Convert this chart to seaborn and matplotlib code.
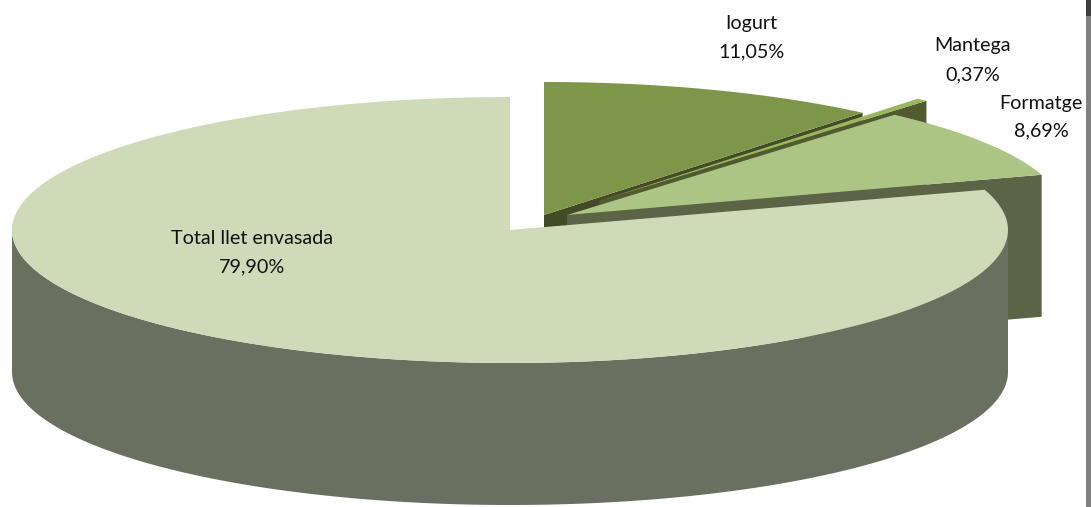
import numpy as np
import pandas as pd
import seaborn as sns
import matplotlib
matplotlib.use("Agg")
import matplotlib.pyplot as plt
from matplotlib.patches import Rectangle

# --- data -------------------------------------------------------------
categories = ["Iogurt", "Mantega", "Formatge", "Total llet envasada"]
shares = [11.05, 0.37, 8.69, 79.90]
value_labels = ["11,05%", "0,37%", "8,69%", "79,90%"]

# --- styles -----------------------------------------------------------
top_colors = ["#7e9649", "#9cb65e", "#adc584", "#cfdbb8"]
wall_colors = ["#434b26", "#505a2f", "#5b6446", "#6a7060"]
centres_x = [544, 599, 567, 510]
centres_y = [215, 201, 215, 230]
label_x = [751, 973, 1041, 252]
name_y = [23, 46, 104, 239]
value_y = [52, 75, 131, 267]

RX, RY, DEPTH = 498, 133, 142

sns.set_theme(style="white")
plt.rcParams["font.family"] = ["Lato", "DejaVu Sans"]

df = pd.DataFrame({"cat": categories, "share": shares, "label": value_labels,
                   "top": top_colors, "wall": wall_colors,
                   "cx": centres_x, "cy": centres_y,
                   "lx": label_x, "ny": name_y, "vy": value_y})
df["a1"] = df["share"].cumsum().shift(fill_value=0) / df["share"].sum() * 2 * np.pi
df["a2"] = df["share"].cumsum() / df["share"].sum() * 2 * np.pi

fig = plt.figure(figsize=(10.91, 5.07), dpi=100, facecolor="white")
ax = fig.add_axes([0, 0, 1, 1])
ax.set_xlim(0, 1091)
ax.set_ylim(507, 0)
ax.axis("off")


def rim(row, a, b, n=240):
    t = np.linspace(a, b, n)
    return row.cx + RX * np.sin(t), row.cy - RY * np.cos(t)


# slices are stacked back to front in their category order
for z, row in enumerate(df.itertuples()):
    base = 2 + 2 * z
    # cut face on the clockwise end of the slice (main slice faces away)
    if row.a2 < np.pi:
        ex = row.cx + RX * np.sin(row.a2)
        ey = row.cy - RY * np.cos(row.a2)
        ax.fill([row.cx, ex, ex, row.cx],
                [row.cy, ey, ey + DEPTH, row.cy + DEPTH],
                color=row.wall, lw=0, zorder=base)
    # outer wall: only the part of the rim turned to the viewer
    a = max(row.a1, np.pi / 2)
    b = min(row.a2, 3 * np.pi / 2)
    if b > a:
        x, y = rim(row, a, b)
        ax.fill(np.r_[x, x[::-1]], np.r_[y, y[::-1] + DEPTH],
                color=row.wall, lw=0, zorder=base)
    # top face
    x, y = rim(row, row.a1, row.a2)
    ax.fill(np.r_[row.cx, x], np.r_[row.cy, y], color=row.top, lw=0,
            zorder=base + 1)

for row in df.itertuples():
    ax.text(row.lx, row.ny, row.cat, ha="center", va="center",
            fontsize=14.2, color="#111111", zorder=30)
    ax.text(row.lx, row.vy, row.label, ha="center", va="center",
            fontsize=14.2, color="#111111", zorder=30)

# window edge visible at the right of the image
ax.add_patch(Rectangle((1086, 0), 5, 16, color="#3f3f3f", lw=0, zorder=40))
ax.add_patch(Rectangle((1086, 16), 5, 491, color="#808080", lw=0, zorder=40))

fig.savefig("out.png", dpi=100, facecolor="white")
